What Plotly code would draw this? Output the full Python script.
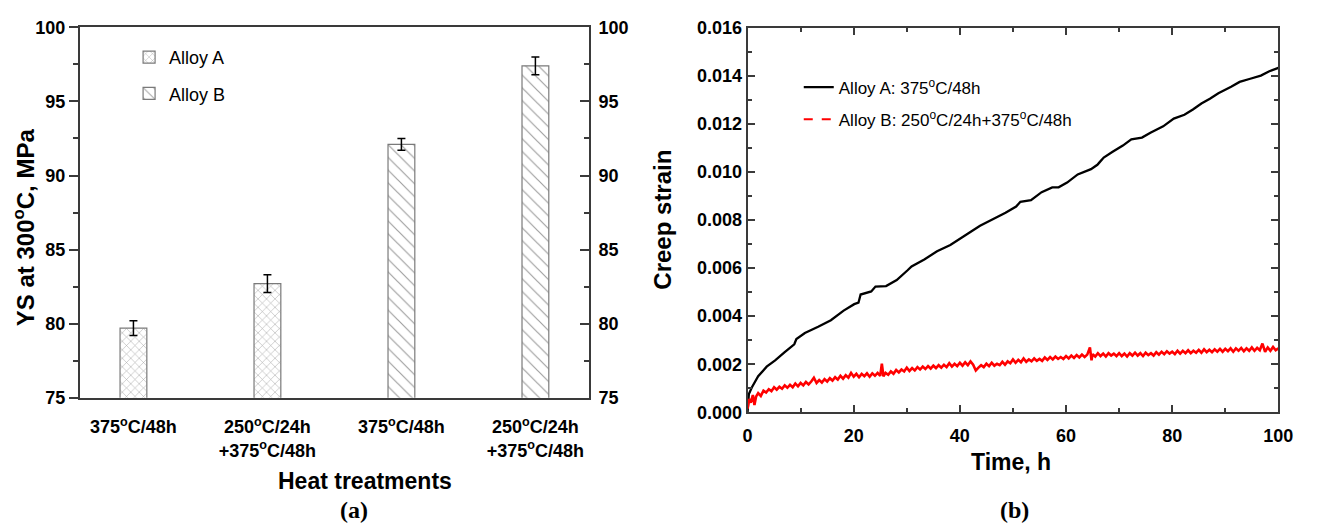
import plotly.graph_objects as go

W, H = 1317, 532


def px(x):
    return x / W


def py(y):
    return 1 - y / H


# ---------------- data: panel (a) ----------------
category_pos = [0, 1, 2, 3]
category_labels = [
    "375<sup>o</sup>C/48h",
    "250<sup>o</sup>C/24h<br>+375<sup>o</sup>C/48h",
    "375<sup>o</sup>C/48h",
    "250<sup>o</sup>C/24h<br>+375<sup>o</sup>C/48h",
]
alloy_a_pos = [0, 1]
alloy_a_ys = [79.7, 82.7]
alloy_a_err = [0.5, 0.6]
alloy_b_pos = [2, 3]
alloy_b_ys = [92.1, 97.4]
alloy_b_err = [0.4, 0.6]

# ---------------- data: panel (b) ----------------
time_a = [0, 0.25, 0.8, 2.0, 3.6, 5.2, 7.0, 8.8, 9.2, 10.8, 13.3, 15.7, 18.1, 20.1, 20.9,
          21.3, 23.3, 24.1, 26.1, 28.1, 30.1, 30.9, 33.3, 35.7, 38.2, 40.2, 42.2, 43.8,
          46.2, 48.6, 50.6, 51.4, 53.4, 55.4, 57.4, 58.6, 60.2, 62.2, 64.7, 65.9, 66.3,
          67.1, 68.7, 70.7, 72.3, 74.3, 75.9, 78.3, 80.3, 82.3, 83.9, 85.5, 87.1, 88.7,
          91.1, 92.7, 94.7, 96.7, 98.3, 100]
strain_a = [0, 0.00076, 0.00103, 0.00150, 0.00190, 0.00216, 0.00250, 0.00283, 0.00305,
            0.00330, 0.00356, 0.00383, 0.00423, 0.00450, 0.00456, 0.00490, 0.00503,
            0.00523, 0.00525, 0.00550, 0.00590, 0.00607, 0.00636, 0.00670, 0.00696,
            0.00723, 0.00753, 0.00776, 0.00803, 0.00830, 0.00856, 0.00876, 0.00883,
            0.00916, 0.00936, 0.00936, 0.00956, 0.00990, 0.01012, 0.01030, 0.01040,
            0.01060, 0.01083, 0.01110, 0.01136, 0.01143, 0.01163, 0.01190, 0.01222,
            0.01238, 0.01260, 0.01285, 0.01305, 0.01328, 0.01355, 0.01375, 0.01388,
            0.01401, 0.01419, 0.01433]

time_b = [0, 0.3, 0.6, 1.0, 1.3, 1.6, 2.0, 2.5, 3.0, 3.5, 4.0, 4.5,
          5.0, 5.5, 6.0, 6.5, 7.0, 7.5, 8.0, 8.5, 9.0, 9.5,
          10.0, 10.5, 11.0, 11.5, 12.0, 12.5, 13.0, 13.5, 14.0, 14.5,
          15.0, 15.5, 16.0, 16.5, 17.0, 17.5, 18.0, 18.5, 19.0, 19.5,
          20.0, 20.5, 21.0, 21.5, 22.0, 22.5, 23.0, 23.5, 24.0, 24.5,
          25.0, 25.3, 25.6, 26.0, 26.5, 27.0, 27.5, 28.0, 28.5, 29.0, 29.5,
          30.0, 30.5, 31.0, 31.5, 32.0, 32.5, 33.0, 33.5, 34.0, 34.5,
          35.0, 35.5, 36.0, 36.5, 37.0, 37.5, 38.0, 38.5, 39.0, 39.5,
          40.0, 40.5, 41.0, 41.5, 42.0, 42.5, 43.0, 43.5, 44.0, 44.5,
          45.0, 45.5, 46.0, 46.5, 47.0, 47.5, 48.0, 48.5, 49.0, 49.5,
          50.0, 50.5, 51.0, 51.5, 52.0, 52.5, 53.0, 53.5, 54.0, 54.5,
          55.0, 55.5, 56.0, 56.5, 57.0, 57.5, 58.0, 58.5, 59.0, 59.5,
          60.0, 60.5, 61.0, 61.5, 62.0, 62.5, 63.0, 63.5, 64.0, 64.5, 64.8,
          65.0, 65.5, 66.0, 66.5, 67.0, 67.5, 68.0, 68.5, 69.0, 69.5,
          70.0, 70.5, 71.0, 71.5, 72.0, 72.5, 73.0, 73.5, 74.0, 74.5,
          75.0, 75.5, 76.0, 76.5, 77.0, 77.5, 78.0, 78.5, 79.0, 79.5,
          80.0, 80.5, 81.0, 81.5, 82.0, 82.5, 83.0, 83.5, 84.0, 84.5,
          85.0, 85.5, 86.0, 86.5, 87.0, 87.5, 88.0, 88.5, 89.0, 89.5,
          90.0, 90.5, 91.0, 91.5, 92.0, 92.5, 93.0, 93.5, 94.0, 94.5,
          95.0, 95.5, 96.0, 96.5, 97.0, 97.5, 98.0, 98.5, 99.0, 99.5,
          100.0]
strain_b = [15e-5, 55e-5, 40e-5, 72e-5, 30e-5, 65e-5, 80e-5, 68e-5, 90e-5, 82e-5, 96e-5, 88e-5,
            104e-5, 94e-5, 106e-5, 98e-5, 112e-5, 102e-5, 114e-5, 104e-5, 120e-5, 108e-5,
            122e-5, 112e-5, 126e-5, 116e-5, 128e-5, 144e-5, 122e-5, 134e-5, 124e-5, 138e-5,
            128e-5, 142e-5, 132e-5, 146e-5, 136e-5, 152e-5, 140e-5, 154e-5, 144e-5, 164e-5,
            148e-5, 160e-5, 146e-5, 160e-5, 150e-5, 162e-5, 148e-5, 162e-5, 152e-5, 164e-5,
            152e-5, 202e-5, 150e-5, 164e-5, 156e-5, 170e-5, 160e-5, 176e-5, 166e-5, 178e-5, 170e-5,
            186e-5, 172e-5, 184e-5, 174e-5, 188e-5, 178e-5, 190e-5, 180e-5, 192e-5, 182e-5,
            194e-5, 184e-5, 196e-5, 186e-5, 198e-5, 188e-5, 204e-5, 190e-5, 202e-5, 192e-5,
            206e-5, 194e-5, 208e-5, 196e-5, 212e-5, 198e-5, 174e-5, 186e-5, 196e-5, 188e-5,
            202e-5, 192e-5, 206e-5, 194e-5, 202e-5, 196e-5, 210e-5, 198e-5, 212e-5, 204e-5,
            220e-5, 206e-5, 218e-5, 208e-5, 224e-5, 210e-5, 220e-5, 212e-5, 224e-5, 214e-5,
            222e-5, 214e-5, 228e-5, 218e-5, 230e-5, 220e-5, 232e-5, 222e-5, 230e-5, 222e-5,
            234e-5, 224e-5, 236e-5, 226e-5, 238e-5, 228e-5, 240e-5, 230e-5, 240e-5, 270e-5, 216e-5,
            242e-5, 232e-5, 246e-5, 234e-5, 244e-5, 232e-5, 246e-5, 236e-5, 244e-5, 234e-5,
            246e-5, 234e-5, 244e-5, 232e-5, 246e-5, 236e-5, 248e-5, 236e-5, 246e-5, 234e-5,
            248e-5, 238e-5, 246e-5, 236e-5, 250e-5, 240e-5, 252e-5, 242e-5, 254e-5, 244e-5,
            252e-5, 242e-5, 256e-5, 244e-5, 256e-5, 246e-5, 258e-5, 246e-5, 256e-5, 248e-5,
            260e-5, 248e-5, 262e-5, 250e-5, 260e-5, 250e-5, 262e-5, 252e-5, 264e-5, 252e-5,
            264e-5, 254e-5, 266e-5, 252e-5, 266e-5, 256e-5, 268e-5, 254e-5, 266e-5, 256e-5,
            270e-5, 256e-5, 268e-5, 258e-5, 286e-5, 252e-5, 270e-5, 256e-5, 272e-5, 258e-5,
            266e-5]

SANS = "Liberation Sans, Arial, sans-serif"
SERIF = "Liberation Serif, Times New Roman, serif"
AXIS_COLOR = "#3a3a3a"
tickfont = dict(family=SANS, size=18, color="black", weight="bold")

fig = go.Figure()

fig.add_trace(go.Bar(
    x=alloy_a_pos, y=alloy_a_ys, width=0.2, name="Alloy A",
    marker=dict(color="white", line=dict(color="#7a7a7a", width=1.2),
                pattern=dict(shape="x", size=6, solidity=0.18, fgcolor="#555555",
                             bgcolor="white")),
    error_y=dict(type="data", array=alloy_a_err, color="black", thickness=1.5, width=4),
    xaxis="x", yaxis="y", legend="legend", legendgroup="a1",
))
fig.add_trace(go.Bar(
    x=alloy_b_pos, y=alloy_b_ys, width=0.2, name="Alloy B",
    marker=dict(color="white", line=dict(color="#7a7a7a", width=1.2),
                pattern=dict(shape="\\", size=9, solidity=0.13, fgcolor="#404040",
                             bgcolor="white")),
    error_y=dict(type="data", array=alloy_b_err, color="black", thickness=1.5, width=4),
    xaxis="x", yaxis="y", legend="legend", legendgroup="a2",
))
# empty trace so the mirrored right-hand axis of panel (a) is drawn
fig.add_trace(go.Scatter(x=[None], y=[None], xaxis="x", yaxis="y2", showlegend=False,
                         hoverinfo="skip"))

fig.add_trace(go.Scatter(
    x=time_a, y=strain_a, mode="lines", name="Alloy A: 375<sup>o</sup>C/48h",
    line=dict(color="black", width=2.3), xaxis="x2", yaxis="y3",
    legend="legend2", legendgroup="b1",
))
fig.add_trace(go.Scatter(
    x=time_b, y=strain_b, mode="lines", showlegend=False,
    line=dict(color="#ff0000", width=2.6), xaxis="x2", yaxis="y3",
))
fig.add_trace(go.Scatter(
    x=[None], y=[None], mode="lines",
    name="Alloy B: 250<sup>o</sup>C/24h+375<sup>o</sup>C/48h",
    line=dict(color="#ff0000", width=2, dash="dash"), xaxis="x2", yaxis="y3",
    legend="legend2", legendgroup="b2",
))

common_line = dict(showline=True, linecolor=AXIS_COLOR, linewidth=2, showgrid=False,
                   zeroline=False, tickcolor=AXIS_COLOR, tickwidth=1.5, tickfont=tickfont)

fig.update_layout(
    width=W, height=H, margin=dict(l=0, r=0, t=0, b=0),
    paper_bgcolor="white", plot_bgcolor="white", barmode="overlay",
    xaxis=dict(domain=[px(76), px(593)], range=[-0.4, 3.4], tickvals=category_pos,
               ticktext=category_labels, ticks="", mirror=True, anchor="y",
               ticklabelstandoff=12, **common_line),
    yaxis=dict(domain=[py(403), py(18)], range=[75, 100], dtick=5, ticks="outside",
               ticklen=9, minor=dict(dtick=2.5, ticks="outside", ticklen=5,
                                     tickcolor=AXIS_COLOR, tickwidth=1.5),
               anchor="x", **common_line),
    yaxis2=dict(overlaying="y", side="right", range=[75, 100], dtick=5, ticks="inside",
                ticklen=9, minor=dict(dtick=2.5, ticks="inside", ticklen=5,
                                      tickcolor=AXIS_COLOR, tickwidth=1.5),
                anchor="x", ticklabelstandoff=4, **common_line),
    xaxis2=dict(domain=[px(754), px(1293)], range=[0, 100], dtick=20, ticks="inside",
                ticklen=7, minor=dict(dtick=10, ticks="inside", ticklen=4,
                                      tickcolor=AXIS_COLOR, tickwidth=1.5),
                mirror="allticks", anchor="y3", ticklabelstandoff=6, **common_line),
    yaxis3=dict(domain=[py(418), py(18.5)], range=[0, 0.016], dtick=0.002,
                tickformat=".3f", ticks="inside", ticklen=7,
                minor=dict(dtick=0.001, ticks="inside", ticklen=4,
                           tickcolor=AXIS_COLOR, tickwidth=1.5),
                mirror="allticks", anchor="x2", **common_line),
    legend=dict(x=px(126), y=py(30), xanchor="left", yanchor="top",
                bgcolor="rgba(0,0,0,0)", traceorder="grouped", tracegroupgap=10,
                font=dict(family=SANS, size=18, color="black")),
    legend2=dict(x=px(806), y=py(62), xanchor="left", yanchor="top",
                 bgcolor="rgba(0,0,0,0)", traceorder="grouped", tracegroupgap=7,
                 font=dict(family=SANS, size=17, color="black")),
    showlegend=True,
)

ann = [
    dict(text="YS at 300<sup>o</sup>C, MPa", x=px(19), y=py(226), textangle=-90,
         font=dict(family=SANS, size=24, color="black", weight="bold")),
    dict(text="Heat treatments", x=px(366), y=py(489),
         font=dict(family=SANS, size=23, color="black", weight="bold")),
    dict(text="(a)", x=px(354), y=py(520),
         font=dict(family=SERIF, size=24, color="black", weight="bold")),
    dict(text="Creep strain", x=px(668), y=py(218), textangle=-90,
         font=dict(family=SANS, size=24, color="black", weight="bold")),
    dict(text="Time, h", x=px(1022), y=py(470),
         font=dict(family=SANS, size=23, color="black", weight="bold")),
    dict(text="(b)", x=px(1025), y=py(520),
         font=dict(family=SERIF, size=24, color="black", weight="bold")),
]
for a in ann:
    a.update(xref="paper", yref="paper", showarrow=False, xanchor="center",
             yanchor="middle")
fig.update_layout(annotations=ann)

fig.write_html("out.html")
